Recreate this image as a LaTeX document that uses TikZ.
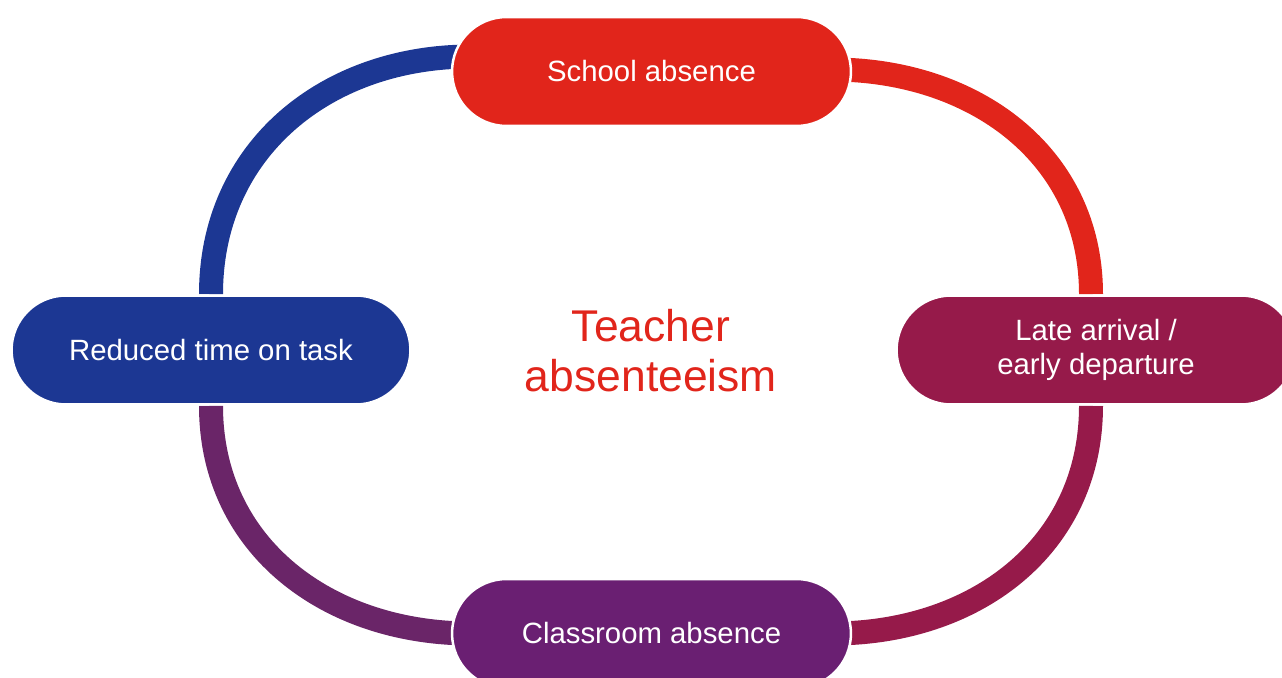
\documentclass[tikz,border=0pt]{standalone}
\usepackage{fontspec}
\setmainfont{Liberation Sans}
\usetikzlibrary{calc,backgrounds}
\definecolor{absred}{HTML}{E1251B}
\definecolor{absblue}{HTML}{1C3793}
\definecolor{absplum}{HTML}{961A4A}
\definecolor{abspurple}{HTML}{6A1F72}
\definecolor{absmauve}{HTML}{6A2568}
\newcommand{\stagenode}[4]{%
 \node[pill,fill={#3}] ({#1}) at ({#2}) {#4};%
}

\begin{document}
\begin{tikzpicture}[x=0.02cm,y=0.02cm,
  pill/.style={rectangle,rounded corners=1.09cm,draw=white,line width=0.05cm,
    minimum width=7.98cm,minimum height=2.18cm,text=white,align=center,
    font=\fontsize{16.7}{19}\selectfont},
  ring/.style={line width=0.48cm,looseness=1.05}]
  \useasboundingbox (0,0) rectangle (1282,677);
  \clip (0,0) rectangle (1282,677);
  \stagenode{school}{651.5,605.5}{absred}{School absence};
  \stagenode{late}{1096,327}{absplum}{Late arrival /\\early departure};
  \stagenode{classroom}{651.5,43.5}{abspurple}{Classroom absence};
  \stagenode{reduced}{211,327}{absblue}{Reduced time on task};
  \node[text=absred,align=center,font=\fontsize{25.3}{28.5}\selectfont] (title) at (651,326) {Teacher\\absenteeism};
  \begin{pgfonlayer}{background}
   \draw[ring,absblue] ($(school.west)+(20,15)$) to[out=180,in=90] (reduced.north);
   \draw[ring,absred] ($(school.east)+(-20,2)$) to[out=0,in=90] ($(late.north)+(-5,0)$);
   \draw[ring,absplum] ($(late.south)+(-5,0)$) to[out=-90,in=0] ($(classroom.east)+(-20,0)$);
   \draw[ring,absmauve] (reduced.south) to[out=-90,in=180] ($(classroom.west)+(20,0)$);
  \end{pgfonlayer}
\end{tikzpicture}
\end{document}
